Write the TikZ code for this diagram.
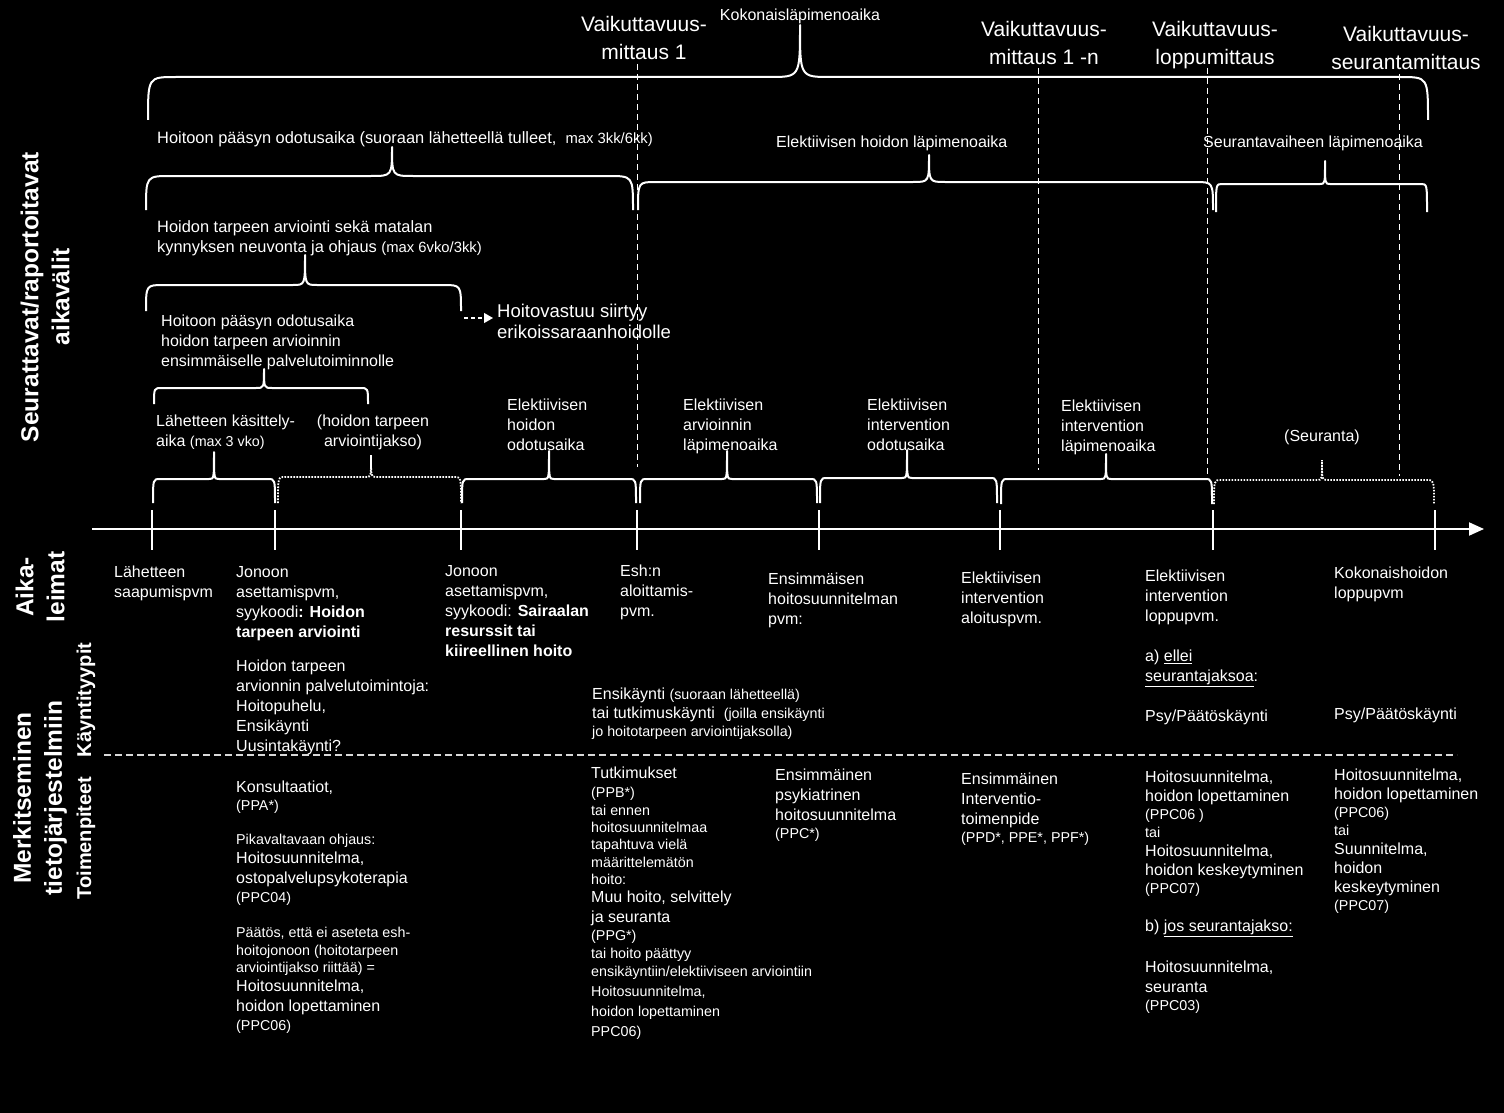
\documentclass[tikz,border=0pt]{standalone}
\usepackage{fontspec}
\setmainfont{Liberation Sans}
\usetikzlibrary{arrows.meta}
\newcommand\fsz[2]{\fontsize{#1}{#2}\selectfont}
\newcommand\sm{\fsz{14.3}{18}}
% #1 style, #2 x1, #3 x2, #4 ytop, #5 ybot, #6 xtip, #7 ytip, #8 corner, #9 tip half width
\newcommand\tlbrace[9]{%
  \draw[#1] (#2,#5) .. controls (#2,#4) .. ({#2+#8},#4) -- ({#6-#9},#4)
    .. controls (#6,#4) .. (#6,#7) .. controls (#6,#4) .. ({#6+#9},#4)
    -- ({#3-#8},#4) .. controls (#3,#4) .. (#3,#5);}
\begin{document}
\begin{tikzpicture}[x=1pt,y=-1pt,
  every node/.style={text=white, inner sep=0pt},
  txt/.style={anchor=north west, align=left, font=\fsz{16}{20}},
  ctxt/.style={anchor=north, align=center, font=\fsz{16}{20}},
  bigtxt/.style={anchor=north, align=center, font=\fsz{21}{28}},
  vlab/.style={rotate=90, align=center, font=\bfseries\fsz{24.5}{31}},
  vlabs/.style={rotate=90, align=center, font=\bfseries\fsz{20}{24}},
  brc/.style={draw=white, line width=2pt, line join=round},
  dbrc/.style={draw=white, line width=1.8pt, dash pattern=on 1.6pt off 1.4pt},
  vdash/.style={draw=white, line width=1pt, dash pattern=on 6pt off 4pt},
  hdash/.style={draw=white!85!black, line width=1.3pt, dash pattern=on 7pt off 4pt},
  tick/.style={draw=white, line width=2pt},
  axisline/.style={draw=white, line width=2pt, -{Triangle[length=15pt,width=13pt]}},
  harrow/.style={draw=white, line width=1.3pt, dash pattern=on 4pt off 3pt, -{Triangle[length=9pt,width=10pt]}, shorten >=4pt}
]
\fill[black] (0,0) rectangle (1504,1113);
\useasboundingbox (0,0) rectangle (1504,1113);

% ---------- left vertical labels ----------
\node[vlab] (vl1) at (45,297) {Seurattavat/raportoitavat\\aikavälit};
\node[vlab] (vl2) at (40,587) {Aika-\\leimat};
\node[vlab] (vl3) at (40,798) {Merkitseminen\\tietojärjestelmiin};
\node[vlabs] (vl4) at (86,700) {Käyntityypit};
\node[vlabs] (vl5) at (86,838) {Toimenpiteet};

% ---------- top labels ----------
\node[bigtxt] (vm1) at (644,16) {Vaikuttavuus-\\mittaus 1};
\node[anchor=north, font=\fsz{16}{18}] (koko) at (800,9) {Kokonaisläpimenoaika};
\node[bigtxt] (vm1n) at (1044,21) {Vaikuttavuus-\\mittaus 1 -n};
\node[bigtxt] (vml) at (1215,21) {Vaikuttavuus-\\loppumittaus};
\node[bigtxt] (vms) at (1406,26) {Vaikuttavuus-\\seurantamittaus};

% ---------- dashed vertical guides ----------
\draw[vdash] (637,64) -- (637,467);
\draw[vdash] (1038,68) -- (1038,470);
\draw[vdash] (1207,68) -- (1207,474);
\draw[vdash] (1399,74) -- (1399,476);

% ---------- braces ----------
\tlbrace{brc}{148}{1428}{77}{120}{800}{25}{28}{30}
\tlbrace{brc}{146}{633}{176}{210}{392}{147}{25}{21}
\tlbrace{brc}{638}{1213}{182}{210}{929}{155}{18}{16}
\tlbrace{brc}{1216}{1427}{184}{212}{1325}{161}{6}{5}
\tlbrace{brc}{146}{461}{285}{311}{305}{255}{18}{12}
\tlbrace{brc}{154}{368}{388}{404}{264}{369}{8}{8}
\tlbrace{brc}{153}{275}{479}{503}{214}{452}{7}{5}
\tlbrace{dbrc}{278}{461}{477}{503}{371}{455}{7}{5}
\tlbrace{brc}{462}{636}{479}{503}{549}{451}{7}{5}
\tlbrace{brc}{640}{817}{479}{503}{727}{451}{7}{5}
\tlbrace{brc}{820}{997}{478}{503}{907}{450}{7}{5}
\tlbrace{brc}{1001}{1212}{479}{504}{1106}{454}{7}{5}
\tlbrace{dbrc}{1214}{1434}{480}{504}{1322}{460}{7}{5}

% ---------- brace labels ----------
\node[txt, font=\fsz{16.4}{20}] (lblB) at (157,131) {Hoitoon pääsyn odotusaika (suoraan lähetteellä tulleet,\ \ {\fsz{14.8}{18}max 3kk/6kk)}};
\node[txt] (lblC) at (776,136) {Elektiivisen hoidon läpimenoaika};
\node[txt] (lblD) at (1203,136) {Seurantavaiheen läpimenoaika};
\node[txt, font=\fsz{16.4}{20}] (lblE) at (157,220) {Hoidon tarpeen arviointi sekä matalan\\kynnyksen neuvonta ja ohjaus {\fsz{14.8}{18}(max 6vko/3kk)}};
\node[txt, font=\fsz{18.5}{21}] (hv) at (497,304) {Hoitovastuu siirtyy\\erikoissaraanhoidolle};
\coordinate (eArr) at (464,318);
\draw[harrow] (eArr) -- (eArr -| hv.west);
\node[txt] (lblF) at (161,315) {Hoitoon pääsyn odotusaika\\hoidon tarpeen arvioinnin\\ensimmäiselle palvelutoiminnolle};
\node[txt] (lbl1) at (156,415) {Lähetteen\ käsittely-\\aika {\sm (max 3 vko)}};
\node[ctxt] (lbl2) at (373,415) {(hoidon tarpeen\\arviointijakso)};
\node[txt] (lbl3) at (507,399) {Elektiivisen\\hoidon\\odotusaika};
\node[txt] (lbl4) at (683,399) {Elektiivisen\\arvioinnin\\läpimenoaika};
\node[txt] (lbl5) at (867,399) {Elektiivisen\\intervention\\odotusaika};
\node[txt] (lbl6) at (1061,400) {Elektiivisen\\intervention\\läpimenoaika};
\node[txt] (lbl7) at (1284,430) {(Seuranta)};

% ---------- time axis ----------
\coordinate (axs) at (92,529);
\coordinate (axe) at (1484,529);
\draw[axisline] (axs) -- (axe);
\foreach \tx in {152,275,461,637,819,1000,1213,1435}
  \draw[tick] (\tx,510) -- (\tx,550);

% ---------- time stamps ----------
\node[txt] (t1) at (114,566) {Lähetteen\\saapumispvm};
\node[txt] (t2) at (236,566) {Jonoon\\asettamispvm,\\syykoodi\textbf{: Hoidon}\\\textbf{tarpeen arviointi}};
\node[txt] (k2) at (236,660) {Hoidon tarpeen\\arvionnin palvelutoimintoja:\\Hoitopuhelu,\\Ensikäynti\\Uusintakäynti?};
\node[txt] (t3) at (445,565) {Jonoon\\asettamispvm,\\syykoodi: \textbf{Sairaalan}\\\textbf{resurssit tai}\\\textbf{kiireellinen hoito}};
\node[txt] (t4) at (620,565) {Esh:n\\aloittamis-\\pvm.};
\node[txt] (t5) at (768,573) {Ensimmäisen\\hoitosuunnitelman\\pvm:};
\node[txt] (t6) at (961,572) {Elektiivisen\\intervention\\aloituspvm.};
\node[txt] (t7) at (1145,570) {Elektiivisen\\intervention\\loppupvm.};
\node[txt] (k7a) at (1145,650) {a) \underline{ellei}\\\underline{seurantajaksoa}:};
\node[txt] (k7b) at (1145,710) {Psy/Päätöskäynti};
\node[txt] (t8) at (1334,567) {Kokonaishoidon\\loppupvm};
\node[txt] (k8) at (1334,708) {Psy/Päätöskäynti};
\node[txt, font=\fsz{16}{19}] (k4) at (592,688) {Ensikäynti {\sm (suoraan lähetteellä)}\\tai tutkimuskäynti\ \ {\sm (joilla ensikäynti}\\[-1pt]{\sm jo hoitotarpeen arviointijaksolla)}};

% ---------- separator ----------
\draw[hdash] (104,755) -- (1457,755);

% ---------- procedures ----------
\node[txt] (p2a) at (236,781) {Konsultaatiot,\\[-2pt]{\sm (PPA*)}};
\node[txt, font=\fsz{16}{19.3}] (p2b) at (236,834) {{\sm Pikavaltavaan ohjaus:}\\Hoitosuunnitelma,\\ostopalvelupsykoterapia\\{\sm (PPC04)}};
\node[txt, font=\fsz{16}{18.7}] (p2c) at (236,927) {{\sm Päätös, että ei aseteta esh-}\\[-1pt]{\sm hoitojonoon (hoitotarpeen}\\[-1pt]{\sm arviointijakso riittää) =}\\Hoitosuunnitelma,\\[1pt]hoidon lopettaminen\\{\sm (PPC06)}};
\node[txt, font=\fsz{14.3}{17.4}] (p4a) at (591,767) {{\fsz{16}{20}Tutkimukset}\\[1.5pt](PPB*)\\tai ennen\\hoitosuunnitelmaa\\tapahtuva vielä\\määrittelemätön\\hoito:};
\node[txt] (p4b) at (591,891) {Muu hoito, selvittely\\ja seuranta};
\node[txt, font=\fsz{14.3}{18}] (p4c) at (591,930) {(PPG*)\\tai hoito päättyy\\ensikäyntiin/elektiiviseen arviointiin};
\node[txt, font=\fsz{14.3}{20}] (p4d) at (591,986) {Hoitosuunnitelma,\\hoidon lopettaminen\\PPC06)};
\node[txt] (p5) at (775,769) {Ensimmäinen\\psykiatrinen\\hoitosuunnitelma\\[-2pt]{\sm (PPC*)}};
\node[txt] (p6) at (961,773) {Ensimmäinen\\Interventio-\\toimenpide\\[-2pt]{\sm (PPD*, PPE*, PPF*)}};
\node[txt, font=\fsz{16}{19}] (p7a) at (1145,771) {Hoitosuunnitelma,\\hoidon lopettaminen\\[-1pt]{\sm (PPC06 )}\\[-1pt]{\sm tai}\\Hoitosuunnitelma,\\hoidon keskeytyminen\\[-1pt]{\sm (PPC07)}};
\node[txt] (p7b) at (1145,920) {b) \underline{jos seurantajakso:}};
\node[txt] (p7c) at (1145,961) {Hoitosuunnitelma,\\seuranta\\[-2pt]{\sm (PPC03)}};
\node[txt, font=\fsz{16}{19}] (p8) at (1334,769) {Hoitosuunnitelma,\\hoidon lopettaminen\\[-1pt]{\sm (PPC06)}\\[-1pt]{\sm tai}\\Suunnitelma,\\hoidon\\keskeytyminen\\[-1pt]{\sm (PPC07)}};
\end{tikzpicture}
\end{document}
